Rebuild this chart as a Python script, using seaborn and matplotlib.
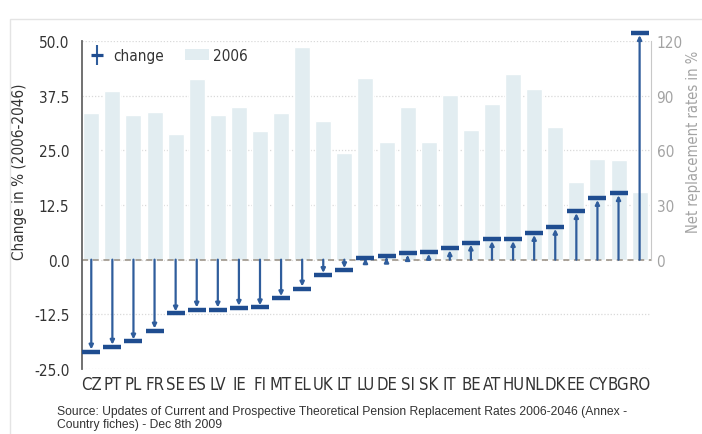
import matplotlib
matplotlib.use("Agg")
import matplotlib.pyplot as plt
import matplotlib.font_manager as fm
import seaborn as sns
import pandas as pd
from matplotlib.lines import Line2D
from matplotlib.patches import Patch, Rectangle
from matplotlib.legend_handler import HandlerTuple

# Country codes, ordered by change in net replacement rate
countries = ["CZ", "PT", "PL", "FR", "SE", "ES", "LV", "IE", "FI", "MT", "EL", "UK", "LT",
             "LU", "DE", "SI", "SK", "IT", "BE", "AT", "HU", "NL", "DK", "EE", "CY", "BG", "RO"]
# Net replacement rates in 2006 (%)
rate_2006 = [80.7, 92.4, 79.3, 80.9, 68.9, 99.0, 79.3, 83.7, 70.5, 80.7, 116.7, 76.2, 58.4,
             99.9, 64.5, 83.8, 64.5, 90.4, 71.2, 85.5, 102.0, 93.5, 72.9, 42.6, 55.5, 54.8, 37.3]
# Change 2006-2046 (%)
change = [-21.0, -19.9, -18.7, -16.2, -12.3, -11.4, -11.4, -11.0, -10.9, -8.8, -6.6, -3.5, -2.4,
          0.3, 0.9, 1.5, 1.8, 2.6, 3.9, 4.7, 4.7, 6.1, 7.5, 11.1, 14.1, 15.2, 51.8]

left_ticks = [-25.0, -12.5, 0.0, 12.5, 25.0, 37.5, 50.0]
right_ticks = [-60, -30, 0, 30, 60, 90, 120]
right_labels = ["", "", "0", "30", "60", "90", "120"]

df = pd.DataFrame({"country": countries, "rate": rate_2006, "change": change})

sns.set_style("white")


def pick_narrow_font():
    """Return (family, stretch) of an installed condensed sans face, if any."""
    for f in fm.fontManager.ttflist:
        path = f.fname.lower()
        if ("condensed" in path or "narrow" in path) and "bold" not in path \
                and "oblique" not in path and "italic" not in path and "mono" not in path \
                and "serif" not in path.replace("sans", ""):
            return f.name, f.stretch
    return "Roboto", "normal"


narrow_family, narrow_stretch = pick_narrow_font()
plt.rcParams["font.family"] = [narrow_family, "DejaVu Sans"]
plt.rcParams["font.stretch"] = narrow_stretch

BAR = "#e2edf1"
LINE = "#2f5d9c"
CAP = "#1f4d90"
DARK = "#333333"
GREY = "#a3a3a3"

fig = plt.figure(figsize=(7.02, 4.35), dpi=100)
fig.patches.append(Rectangle((10 / 702, -0.05), 1.0, 1 - 20 / 435 + 0.05,
                             transform=fig.transFigure, fill=False,
                             edgecolor="#e4e4e4", lw=1.0))

ax = fig.add_axes([82 / 702, 1 - 370 / 435, (651 - 82) / 702, (370 - 42) / 435])
ax2 = ax.twinx()

# 2006 rates as light bars on the right-hand scale
sns.barplot(data=df, x="country", y="rate", ax=ax2, color=BAR, width=0.76,
            saturation=1, zorder=1)
ax2.set_ylim(-60, 120)
ax2.set_yticks(right_ticks, labels=right_labels)
ax2.grid(axis="y", color="#d9d9d9", linestyle=(0, (1, 1.5)), lw=0.9)
ax2.set_axisbelow(True)
ax2.tick_params(axis="y", length=0, pad=4, labelsize=11, labelcolor=GREY)
ax2.set_ylabel("Net replacement rates in %", color=GREY, fontsize=10.5)
ax2.yaxis.set_label_coords(1 + (686 - 651) / 569, (370 - 142) / 328)
for s in ["top", "left", "bottom"]:
    ax2.spines[s].set_visible(False)
ax2.spines["right"].set_color("#c8c8c8")
ax2.spines["right"].set_bounds(0, 120)

# Change as arrows from zero with a cap at the value
ax.set_zorder(ax2.get_zorder() + 1)
ax.patch.set_visible(False)
ax.axhline(0, color="#958c80", lw=1.1, linestyle=(0, (4, 3)), zorder=2)
for i, v in enumerate(change):
    ax.annotate("", xy=(i, v), xytext=(i, 0), annotation_clip=False,
                arrowprops=dict(arrowstyle="-|>", color=LINE, lw=1.6,
                                mutation_scale=6, shrinkA=0, shrinkB=1.5),
                zorder=3)
sns.scatterplot(data=df, x="country", y="change", ax=ax, marker="_", s=150,
                linewidth=3.2, color=CAP, zorder=4, clip_on=False)

ax.set_xlim(-0.44, len(countries) - 0.46)
ax.set_ylim(-25, 50)
ax.set_yticks(left_ticks, labels=[f"{t:.1f}" for t in left_ticks])
ax.tick_params(axis="y", length=0, pad=9, labelsize=11, labelcolor=DARK)
ax.tick_params(axis="x", length=0, pad=4, labelsize=12, labelcolor=DARK)
ax.set_xlabel("")
ax.set_ylabel("Change in % (2006-2046)", color=DARK, fontsize=11)
ax.yaxis.set_label_coords((27 - 82) / 569, (370 - 172) / 328)
for s in ["top", "right", "bottom"]:
    ax.spines[s].set_visible(False)
ax.spines["left"].set_color("#666666")
ax.spines["left"].set_linewidth(1.3)

change_handle = (Line2D([], [], color=LINE, marker="|", linestyle="none",
                        markersize=14, markeredgewidth=1.5),
                 Line2D([], [], color=CAP, marker="_", linestyle="none",
                        markersize=8, markeredgewidth=2.3))
bar_handle = Patch(facecolor=BAR, edgecolor="none")
ax.legend([change_handle, bar_handle], ["change", "2006"],
          handler_map={tuple: HandlerTuple(ndivide=1)},
          loc="upper left", bbox_to_anchor=(-0.019, 1.02), ncol=2, frameon=False,
          fontsize=11, handlelength=1.6, handletextpad=0.25,
          columnspacing=1.35, labelcolor=DARK)

src = ("Source: Updates of Current and Prospective Theoretical Pension Replacement Rates 2006-2046 (Annex -\n"
       "Country fiches) - Dec 8th 2009")
fig.text(57 / 702, 1 - 406 / 435, src, ha="left", va="top", fontsize=8.7,
         color=DARK, family=["Liberation Sans", "DejaVu Sans"],
         stretch="normal", linespacing=1.15)

fig.savefig("out.png", dpi=100, facecolor="white")
